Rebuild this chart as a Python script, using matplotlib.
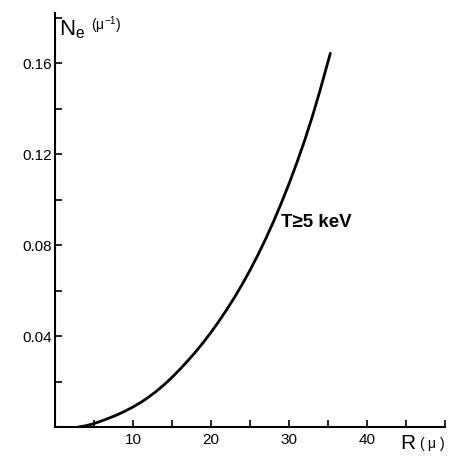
import matplotlib
matplotlib.use("Agg")
import matplotlib.pyplot as plt
from matplotlib.ticker import MultipleLocator, FuncFormatter

plt.rcParams['font.family'] = ['Liberation Sans', 'DejaVu Sans']
plt.rcParams['mathtext.fontset'] = 'custom'
plt.rcParams['mathtext.rm'] = 'Liberation Sans'
plt.rcParams['mathtext.it'] = 'Liberation Sans'

# Data (R in microns, Ne in 1/micron)
R = [3, 4, 5, 6, 7, 8, 9, 10, 11, 12, 13, 14, 15, 16, 17, 18, 19, 20, 21, 22,
     23, 24, 25, 26, 27, 28, 29, 30, 31, 32, 33, 34, 35.3]
Ne = [0.0, 0.0006, 0.0015, 0.0027, 0.0040, 0.0054, 0.0070, 0.0088, 0.0108,
      0.0131, 0.0157, 0.0186, 0.0218, 0.0253, 0.0290, 0.0329, 0.0371, 0.0416,
      0.0464, 0.0515, 0.0569, 0.0627, 0.0689, 0.0755, 0.0826, 0.0902, 0.0983,
      0.1069, 0.1161, 0.1259, 0.1366, 0.1482, 0.1643]

x_labels = [10, 20, 30, 40]
y_labels = [0.04, 0.08, 0.12, 0.16]
curve_label = "T\u22655 keV"

fig = plt.figure(figsize=(4.5, 4.57), dpi=100)
ax = fig.add_axes([0.122, 0.0656, 0.867, 0.906])
ax.plot(R, Ne, color='black', lw=2.0, solid_capstyle='round', solid_joinstyle='round')

ax.set_xlim(0, 50)
ax.set_ylim(0, 0.182)
for s in ['top', 'right']:
    ax.spines[s].set_visible(False)
for s in ['left', 'bottom']:
    ax.spines[s].set_linewidth(1.5)

ax.xaxis.set_major_locator(MultipleLocator(5))
ax.yaxis.set_major_locator(MultipleLocator(0.02))
ax.xaxis.set_major_formatter(FuncFormatter(
    lambda v, p: f"{int(round(v))}" if any(abs(v - t) < 1e-6 for t in x_labels) else ""))
ax.yaxis.set_major_formatter(FuncFormatter(
    lambda v, p: f"{v:.2f}" if any(abs(v - t) < 1e-6 for t in y_labels) else ""))
ax.tick_params(axis='both', direction='in', length=5, width=1.2, labelsize=11, pad=4)
ax.tick_params(axis='y', pad=2)

ax.text(29.0, 0.090, curve_label, fontsize=13.5, fontweight='bold', va='center', ha='left')

ax.text(0.5, 0.172, r'N$_\mathregular{e}$', fontsize=16, va='baseline', ha='left')
ax.text(4.6, 0.1745, r'($\mu^{\mathregular{-1}}$)', fontsize=10, va='baseline', ha='left')

ax.text(44.2, -0.0097, 'R', fontsize=15, va='baseline', ha='left', clip_on=False)
ax.text(46.6, -0.0092, r'( $\mu$ )', fontsize=10, va='baseline', ha='left', clip_on=False)

fig.savefig('out.png', dpi=100, facecolor='white')
